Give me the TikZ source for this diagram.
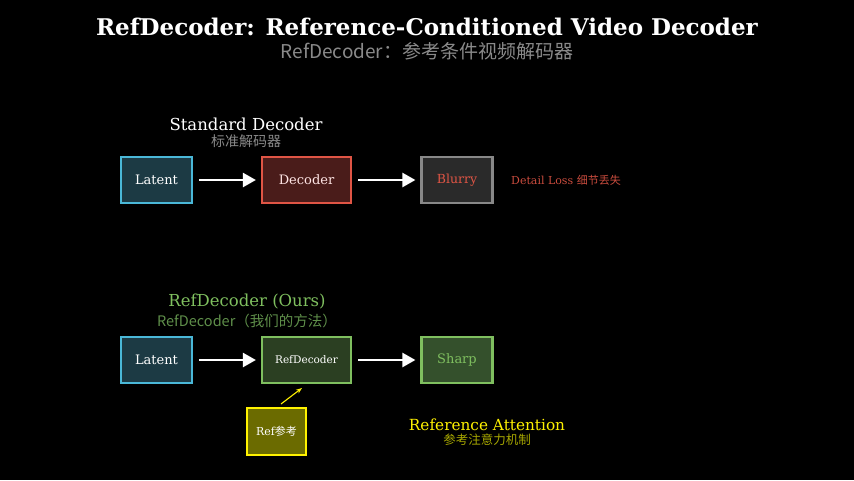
\documentclass[tikz,border=0pt]{standalone}
\usepackage{fontspec}
\setmainfont{DejaVu Serif}
\newfontfamily\cjk{Noto Sans CJK SC}
\usetikzlibrary{arrows.meta}
\definecolor{cyb}{HTML}{4AB8D8}\definecolor{cyf}{HTML}{1C3A44}
\definecolor{rdb}{HTML}{E05545}\definecolor{rdf}{HTML}{4A1C1A}
\definecolor{gyb}{HTML}{888888}\definecolor{gyf}{HTML}{2A2A2A}
\definecolor{gnb}{HTML}{7FBF5F}\definecolor{gnf}{HTML}{2B3F22}\definecolor{gnf2}{HTML}{34502C}
\definecolor{ylf}{HTML}{6B6B00}\definecolor{ylt}{HTML}{A8A800}
\definecolor{gtx}{HTML}{8A8A8A}\definecolor{gntx}{HTML}{5F8F4A}
\begin{document}
\begin{tikzpicture}[x=1pt,y=-1pt,
  box/.style={draw,line width=2.2pt,minimum width=71pt,minimum height=46pt,inner sep=0pt,font=\fontsize{13}{15}\selectfont},
  arr/.style={white,line width=2.4pt,shorten <=6pt,shorten >=5pt,-{Triangle[length=13pt,width=14pt]}},
  every node/.style={inner sep=0pt}]
\useasboundingbox[fill=black] (0,0) rectangle (854,480);
\node[white,font=\bfseries\fontsize{23}{26}\selectfont] (title) at (427,27) {RefDecoder: Reference-Conditioned Video Decoder};
\node[gtx,font=\cjk\fontsize{19}{22}\selectfont] (sub) at (427,51) {RefDecoder：参考条件视频解码器};
\node[white,font=\fontsize{16.5}{19}\selectfont] (t1) at (246,124) {Standard Decoder};
\node[gtx,font=\cjk\fontsize{14}{16}\selectfont] (t1c) at (246,141) {标准解码器};
\node[box,draw=cyb,fill=cyf,text=white] (lat1) at (156.5,180) {Latent};
\node[box,draw=rdb,fill=rdf,text=white!90!red,minimum width=89pt] (dec) at (306.5,180) {Decoder};
\node[box,draw=gyb,fill=gyf,text=rdb,font=\fontsize{12.5}{15}\selectfont] (blur) at (457,180) {Blurry};
\node[anchor=west,text=rdb!90!black,font=\fontsize{11}{13}\selectfont] (loss) at (511,180) {Detail Loss {\cjk 细节丢失}};
\draw[arr] (lat1) -- (dec);
\draw[arr] (dec) -- (blur);
\node[gnb,font=\fontsize{16.5}{19}\selectfont] (t2) at (247,302) {RefDecoder (Ours)};
\node[gntx,font=\cjk\fontsize{14.5}{17}\selectfont] (t2c) at (247,321) {RefDecoder（我们的方法）};
\node[box,draw=cyb,fill=cyf,text=white] (lat2) at (156.5,360) {Latent};
\node[box,draw=gnb,fill=gnf,text=white,minimum width=89pt,font=\fontsize{10.5}{12}\selectfont] (rd) at (306.5,360) {RefDecoder};
\node[box,draw=gnb,fill=gnf2,text=gnb,font=\fontsize{13}{15}\selectfont] (sharp) at (457,360) {Sharp};
\draw[arr] (lat2) -- (rd);
\draw[arr] (rd) -- (sharp);
\node[box,draw=yellow,fill=ylf,text=white,minimum width=59pt,minimum height=47pt,font=\fontsize{11}{13}\selectfont] (ref) at (276.5,431.5) {Ref{\cjk 参考}};
\coordinate (rs) at (281,404);
\coordinate (re) at (302,388);
\draw[yellow,line width=1.1pt,-{Stealth[length=6pt]}] (rs) -- (re);
\node[yellow,font=\fontsize{15.3}{18}\selectfont] (ra) at (487,425) {Reference Attention};
\node[ylt,font=\cjk\fontsize{12.5}{14}\selectfont] (rac) at (487,440) {参考注意力机制};
\end{tikzpicture}
\end{document}
